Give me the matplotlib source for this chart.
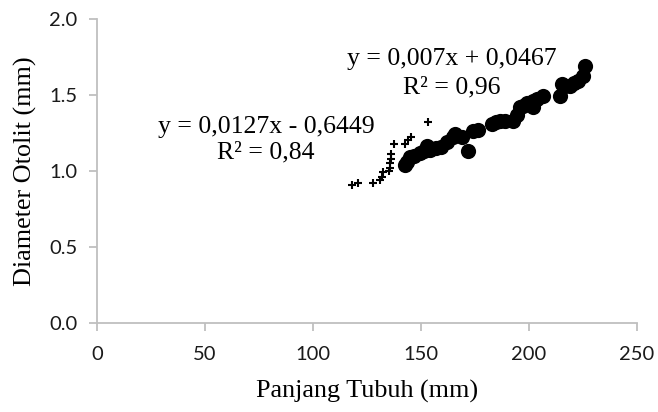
import numpy as np
import matplotlib.pyplot as plt

# series 1 (crosses)
x1 = [117.9, 120.9, 127.9, 131.0, 131.8, 132.6, 135.2, 135.6, 135.6, 135.9, 135.9,
      137.5, 142.6, 144.1, 145.2, 153.3]
y1 = [0.91, 0.92, 0.92, 0.94, 0.96, 0.99, 1.00, 1.02, 1.055, 1.08, 1.11,
      1.175, 1.175, 1.20, 1.22, 1.32]

# series 2 (circles)
x2 = [142.6, 143.7, 144.9, 146.7, 149.6, 151.2, 152.6, 154.1, 157.1, 159.1, 161.9,
      165.0, 165.8, 168.9, 171.9, 174.2, 176.5, 182.7, 184.5, 186.6, 188.9, 192.7,
      194.3, 195.8, 197.4, 198.9, 201.9, 202.0, 203.6, 206.6, 214.3, 215.1,
      216.8, 219.0, 220.8, 222.8, 225.1, 225.9]
y2 = [1.04, 1.06, 1.09, 1.10, 1.12, 1.13, 1.165, 1.14, 1.15, 1.16, 1.19,
      1.22, 1.24, 1.22, 1.13, 1.26, 1.27, 1.31, 1.32, 1.33, 1.33, 1.33,
      1.37, 1.42, 1.43, 1.45, 1.46, 1.42, 1.47, 1.49, 1.49, 1.57,
      1.56, 1.56, 1.58, 1.59, 1.625, 1.69]

eq1 = "y = 0,0127x - 0,6449"
r1 = "R² = 0,84"
eq2 = "y = 0,007x + 0,0467"
r2 = "R² = 0,96"

fig = plt.figure(figsize=(6.58, 4.12), dpi=100)
ax = fig.add_axes([0.1474, 0.2167, 0.8207, 0.7372])

ax.scatter(x2, y2, s=120, c='black', marker='o', linewidths=0, zorder=3)
ax.scatter(x1, y1, s=36, c='black', marker='+', linewidths=1.5, zorder=4)

serif = 'Liberation Serif'
fs = 18.5
ax.text(78.2, 1.289, eq1, family=serif, fontsize=fs, ha='center', va='center')
ax.text(78.2, 1.118, r1, family=serif, fontsize=fs, ha='center', va='center')
ax.text(164.3, 1.737, eq2, family=serif, fontsize=fs, ha='center', va='center')
ax.text(164.3, 1.547, r2, family=serif, fontsize=fs, ha='center', va='center')

ax.set_xlim(0, 250)
ax.set_ylim(0, 2.0)
ax.set_xticks([0, 50, 100, 150, 200, 250])
ax.set_yticks([0, 0.5, 1.0, 1.5, 2.0])
ax.set_yticklabels(['0.0', '0.5', '1.0', '1.5', '2.0'])

for s in ['top', 'right']:
    ax.spines[s].set_visible(False)
for s in ['left', 'bottom']:
    ax.spines[s].set_color('#BFBFBF')
    ax.spines[s].set_linewidth(1.3)
ax.tick_params(colors='#BFBFBF', length=6, width=1.3, labelcolor='#1a1a1a', labelsize=14.5)
ax.tick_params(axis='x', pad=11)
ax.tick_params(axis='y', pad=8)
for lab in ax.get_xticklabels() + ax.get_yticklabels():
    lab.set_family('Lato')

ax.set_xlabel('Panjang Tubuh (mm)', family=serif, fontsize=18.8, labelpad=12)
ax.set_ylabel('Diameter Otolit (mm)', family=serif, fontsize=18.8, labelpad=9)

fig.savefig('out.png', dpi=100)
